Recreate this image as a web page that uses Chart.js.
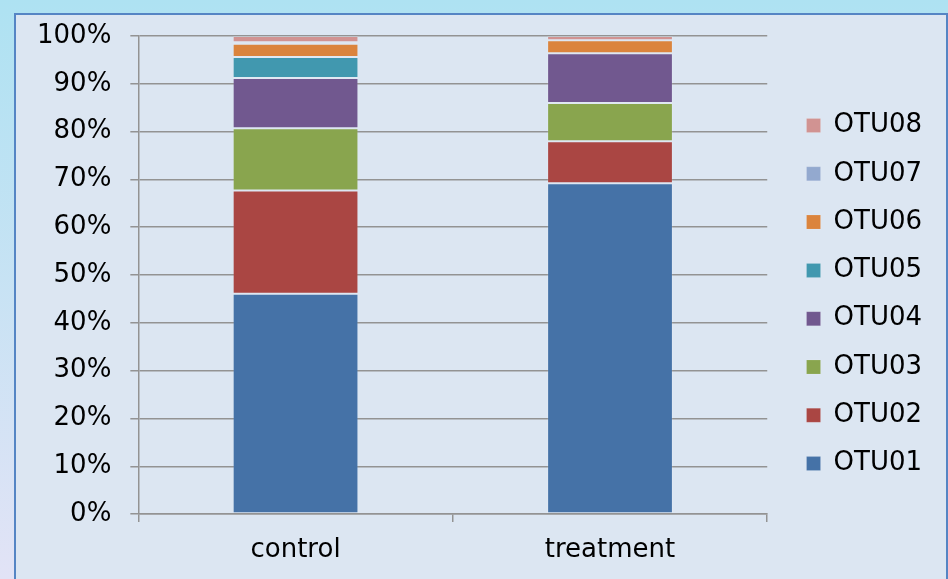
<!DOCTYPE html>
<html lang="en">
<head>
<meta charset="UTF-8">
<title>OTU composition</title>
<style>
  html, body { margin: 0; padding: 0; }
  #wrap { width: 948px; height: 579px; }
</style>
</head>
<body>
<div id="wrap"><canvas id="myChart" width="948" height="579"></canvas></div>

<script src="https://cdn.jsdelivr.net/npm/chart.js"></script>
<script>
// groups on the x axis
const samples = ['control', 'treatment'];

// share of each OTU in percent (control, treatment)
const otu01 = [46.1, 69.2];
const otu02 = [21.6, 8.8];
const otu03 = [13.0, 8.0];
const otu04 = [10.5, 10.4];
const otu05 = [4.4, 0.0];
const otu06 = [2.8, 2.7];
const otu07 = [0.3, 0.0];
const otu08 = [1.3, 0.9];

const yTicks = [0, 10, 20, 30, 40, 50, 60, 70, 80, 90, 100];

const FONT = 'DejaVu Sans';
const gridGray = '#939393';

// background: outer gradient + framed light panel
const frameBg = {
    id: 'frameBg',
    beforeDraw(chart) {
        const c = chart.ctx;
        c.save();
        const g = c.createLinearGradient(0, 0, 0, chart.height);
        g.addColorStop(0, '#aee2f2');
        g.addColorStop(1, '#e2e3f6');
        c.fillStyle = g;
        c.fillRect(0, 0, chart.width, chart.height);
        c.fillStyle = '#dce6f2';
        c.fillRect(15, 14, chart.width - 16, chart.height);
        c.strokeStyle = '#5585c4';
        c.lineWidth = 2;
        c.strokeRect(15, 14, chart.width - 16, chart.height + 10);
        c.restore();
    }
};

function ds(label, data, color) {
    return {
        label: label,
        data: data,
        backgroundColor: color,
        borderColor: 'rgba(255,255,255,0.12)',
        borderWidth: 1,
        borderSkipped: false
    };
}

new Chart(document.getElementById('myChart'), {
    type: 'bar',
    data: {
        labels: samples,
        datasets: [
            ds('OTU01', otu01, '#4572a7'),
            ds('OTU02', otu02, '#aa4643'),
            ds('OTU03', otu03, '#89a54e'),
            ds('OTU04', otu04, '#71588f'),
            ds('OTU05', otu05, '#4198af'),
            ds('OTU06', otu06, '#db843d'),
            ds('OTU07', otu07, '#93a9cf'),
            ds('OTU08', otu08, '#d19392')
        ]
    },
    options: {
        responsive: false,
        animation: false,
        categoryPercentage: 1,
        barPercentage: 0.4,
        layout: { padding: { left: 18, top: 36, bottom: 0, right: 16 } },
        plugins: {
            tooltip: { enabled: false },
            legend: {
                position: 'right',
                reverse: true,
                fullSize: false,
                title: {
                    display: true,
                    text: ' ',
                    font: { size: 1, lineHeight: 1 },
                    padding: { top: 19, bottom: 19 }
                },
                labels: {
                    font: { family: FONT, size: 26 },
                    color: '#000',
                    boxWidth: 14,
                    boxHeight: 14,
                    padding: 22.3
                }
            }
        },
        scales: {
            x: {
                stacked: true,
                grid: { drawOnChartArea: false, drawTicks: true, tickLength: 8, color: gridGray, lineWidth: 1.5 },
                border: { color: gridGray, width: 1.5 },
                ticks: { font: { family: FONT, size: 26, lineHeight: 1.15 }, color: '#000', padding: 13.5 }
            },
            y: {
                stacked: true,
                min: 0,
                max: 100,
                afterBuildTicks: axis => { axis.ticks = yTicks.map(v => ({ value: v })); },
                grid: { color: gridGray, lineWidth: 1.5, tickLength: 8 },
                border: { color: gridGray, width: 1.5 },
                ticks: {
                    font: { family: FONT, size: 26 },
                    color: '#000',
                    padding: 19,
                    callback: v => v + '%'
                }
            },
            // empty spacer between plot and legend
            gap: {
                type: 'linear',
                position: 'right',
                display: true,
                grid: { display: false },
                border: { display: false },
                ticks: { display: false },
                afterFit: s => { s.width = 17; }
            }
        }
    },
    plugins: [frameBg]
});
</script>
</body>
</html>
